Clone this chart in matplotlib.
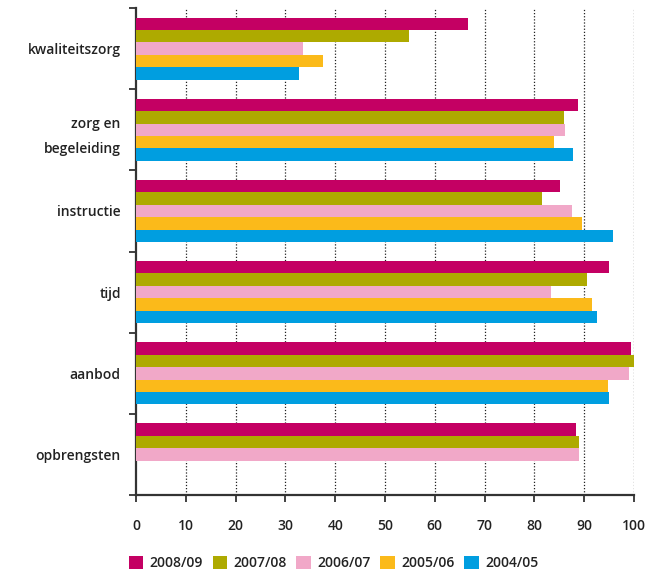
import numpy as np
from matplotlib import pyplot as plt
from matplotlib.ticker import FixedLocator, NullFormatter

plt.rcParams['font.family'] = ['Open Sans', 'DejaVu Sans']

categories = ['kwaliteitszorg', 'zorg en\nbegeleiding', 'instructie', 'tijd', 'aanbod', 'opbrengsten']
years = ['2008/09', '2007/08', '2006/07', '2005/06', '2004/05']
colors = ['#C40063', '#AEAA00', '#F1A8C8', '#FBBA1A', '#009EE0']

# percentages per year, one value per category (nan = no data)
values = {
    '2008/09': [66.6, 88.8, 85.2, 95.0, 99.3, 88.3],
    '2007/08': [54.8, 86.0, 81.5, 90.5, 99.9, 88.9],
    '2006/07': [33.6, 86.2, 87.6, 83.3, 98.9, 89.0],
    '2005/06': [37.5, 83.9, 89.5, 91.6, 94.7, np.nan],
    '2004/05': [32.8, 87.7, 95.7, 92.5, 95.0, np.nan],
}

fig = plt.figure(figsize=(6.67, 5.71), dpi=100)
ax = fig.add_axes([0.204, 0.133, 0.7466, 0.853])

idx = np.arange(len(categories))
h = 0.153
for j, yr in enumerate(years):
    ax.barh(idx + (j - 2) * h, values[yr], height=h, color=colors[j],
            label=yr, zorder=3)

ax.set_xlim(0, 100)
ax.set_ylim(len(categories) - 0.5, -0.5)

# vertical dotted grid
ax.set_xticks(np.arange(0, 101, 10))
for x in range(10, 101, 10):
    ax.axvline(x, color='#222222', linestyle=(0, (1, 1.5)), linewidth=0.9, zorder=1)

# category labels at centers, tick marks at group boundaries
ax.set_yticks(idx)
ax.set_yticklabels(categories, fontsize=10, fontweight='semibold', color='#222222',
                   linespacing=2.0)
ax.tick_params(axis='y', which='major', length=0, pad=11)
ax.yaxis.set_minor_locator(FixedLocator(np.arange(-0.5, len(categories), 1.0)))
ax.yaxis.set_minor_formatter(NullFormatter())
ax.tick_params(axis='y', which='minor', length=5, width=1.3, color='#333333')

ax.tick_params(axis='x', length=5, width=1.3, color='#333333', pad=12,
               labelsize=10, labelcolor='#222222')
for lab in ax.get_xticklabels():
    lab.set_fontweight('semibold')

for s in ['top', 'right']:
    ax.spines[s].set_visible(False)
for s in ['left', 'bottom']:
    ax.spines[s].set_linewidth(1.6)
    ax.spines[s].set_color('#333333')

leg = fig.legend(loc='lower center', bbox_to_anchor=(0.5, -0.02), ncol=5, frameon=False,
                 handlelength=1.05, handleheight=1.05, handletextpad=0.45,
                 columnspacing=0.7, prop={'size': 10, 'weight': 'semibold'})
for t in leg.get_texts():
    t.set_color('#222222')

fig.savefig('out.png', dpi=100)
